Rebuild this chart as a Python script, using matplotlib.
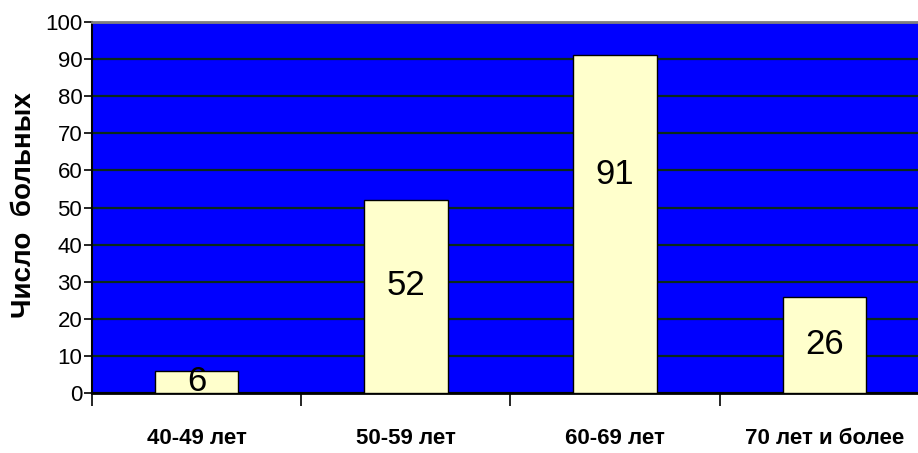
import matplotlib
matplotlib.use("Agg")
import matplotlib.pyplot as plt
import numpy as np

groups = ["40-49 лет", "50-59 лет", "60-69 лет", "70 лет и более"]
patients = [6, 52, 91, 26]
label_y = [3, 29, 59, 13]   # where each count is printed inside its bar

FONT = ["Liberation Sans", "DejaVu Sans"]

fig = plt.figure(figsize=(9.18, 4.53), dpi=100)
# the plot area runs a little past the right edge of the image
ax = fig.add_axes([92 / 918, 1 - 393 / 453, 837 / 918, 371 / 453])
ax.set_facecolor("#0000FF")

x = np.arange(len(groups))
ax.bar(x, patients, width=0.40, color="#FFFFCC", edgecolor="black",
       linewidth=1.0, zorder=3)
for xi, v, ly in zip(x, patients, label_y):
    ax.text(xi, ly, str(v), ha="center", va="center", fontsize=25,
            family=FONT, zorder=4)

ax.set_xlim(-0.5, len(groups) - 0.5)
ax.set_ylim(0, 100)
ax.set_yticks(np.arange(0, 101, 10))
ax.yaxis.grid(True, color="#0a2a1a", linewidth=1.6, zorder=1)
ax.set_axisbelow(True)

# category boundaries carry the x ticks, labels sit at the centres
ax.set_xticks(np.arange(-0.5, len(groups), 1.0))
ax.set_xticklabels([])
ax.set_xticks(x, minor=True)
ax.set_xticklabels(groups, minor=True, fontsize=16, fontweight="bold",
                   family=FONT)
ax.tick_params(axis="x", which="minor", length=0, pad=25)
ax.tick_params(axis="x", which="major", length=9, width=1.2, direction="out")
ax.tick_params(axis="y", length=6, width=1.2, pad=1)
for lbl in ax.get_yticklabels():
    lbl.set_fontsize(16)
    lbl.set_family(FONT)

ax.spines["left"].set_linewidth(1.5)
ax.spines["bottom"].set_linewidth(2)
ax.spines["top"].set_color("#808080")
ax.spines["top"].set_linewidth(2)
ax.spines["right"].set_visible(False)

fig.text(24 / 918, 1 - 205 / 453, "Число  больных", rotation=90,
         ha="center", va="center", fontsize=20, fontweight="bold",
         family=FONT)

fig.savefig("out.png", dpi=100)
